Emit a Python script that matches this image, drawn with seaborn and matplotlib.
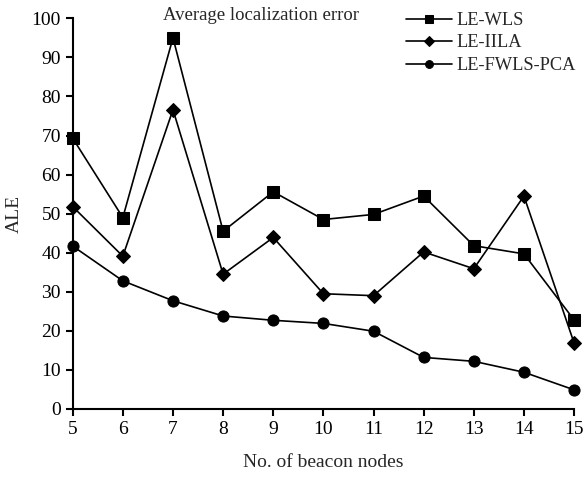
import matplotlib
matplotlib.use("Agg")
import matplotlib.pyplot as plt
import seaborn as sns
import pandas as pd

nodes = [5, 6, 7, 8, 9, 10, 11, 12, 13, 14, 15]
le_wls = [69.3, 49.0, 95.0, 45.5, 55.6, 48.5, 49.8, 54.5, 41.8, 39.7, 22.8]
le_iila = [51.8, 39.1, 76.6, 34.5, 43.9, 29.5, 29.0, 40.2, 35.9, 54.5, 16.9]
le_fwls_pca = [41.7, 32.8, 27.7, 23.8, 22.7, 21.9, 19.9, 13.2, 12.2, 9.4, 4.9]
series_names = ["LE-WLS", "LE-IILA", "LE-FWLS-PCA"]
x_ticks = [5, 6, 7, 8, 9, 10, 11, 12, 13, 14, 15]
y_ticks = [0, 10, 20, 30, 40, 50, 60, 70, 80, 90, 100]

sns.set_theme(style="ticks")
plt.rcParams["font.family"] = ["Liberation Serif", "DejaVu Serif"]

df = pd.DataFrame({
    "nodes": nodes * 3,
    "ALE": le_wls + le_iila + le_fwls_pca,
    "method": [series_names[0]] * len(nodes) + [series_names[1]] * len(nodes) + [series_names[2]] * len(nodes),
})

fig = plt.figure(figsize=(5.84, 4.78), dpi=100)
ax = fig.add_axes([0.1245, 0.1444, 0.8585, 0.8173])

markers = {"LE-WLS": "s", "LE-IILA": "D", "LE-FWLS-PCA": "o"}
sizes = {"LE-WLS": 8.5, "LE-IILA": 7.5, "LE-FWLS-PCA": 8}
for name in series_names:
    sub = df[df["method"] == name]
    sns.lineplot(data=sub, x="nodes", y="ALE", ax=ax, color="black",
                 marker=markers[name], markersize=sizes[name],
                 markeredgecolor="black", markerfacecolor="black",
                 linewidth=1.2, label=name, clip_on=False)

ax.set_xlim(5, 15)
ax.set_ylim(0, 100)
ax.set_xticks(x_ticks)
ax.set_yticks(y_ticks)
ax.tick_params(direction="out", length=5, width=1.5, labelsize=14, colors="black")
for side in ["top", "right"]:
    ax.spines[side].set_visible(False)
for side in ["left", "bottom"]:
    ax.spines[side].set_linewidth(1.5)
    ax.spines[side].set_color("black")

ax.set_xlabel("No. of beacon nodes", fontsize=14, labelpad=12)
ax.set_ylabel("ALE", fontsize=14, labelpad=6)
ax.text(8.76, 100.8, "Average localization error", ha="center", va="center", fontsize=13.5)

leg = ax.legend(loc="upper left", bbox_to_anchor=(0.651, 1.035), frameon=False,
                fontsize=13.2, handlelength=2.5, handletextpad=0.2, labelspacing=0.3,
                markerscale=0.7, borderaxespad=0)

fig.savefig("out.png", dpi=100)
